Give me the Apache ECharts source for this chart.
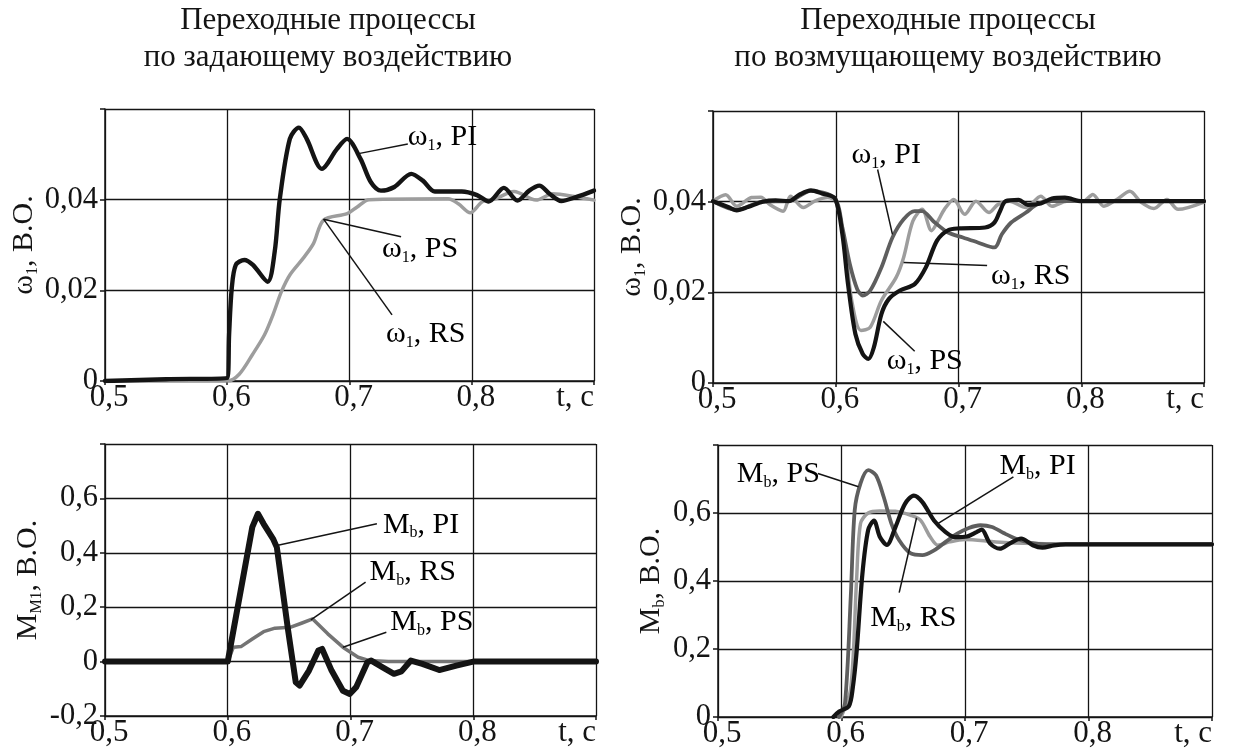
<!DOCTYPE html>
<html>
<head>
<meta charset="utf-8">
<script src="https://cdn.jsdelivr.net/npm/echarts@6/dist/echarts.min.js"></script>
<style>
html,body{margin:0;padding:0;background:#fff;}
#chart{width:1238px;height:751px;}
</style>
</head>
<body>
<div id="chart"></div>
<script>
// заголовки колонок
var titleLeft = ['Переходные процессы', 'по задающему воздействию'];
var titleRight = ['Переходные процессы', 'по возмущающему воздействию'];

// ось времени, с
var tMin = 0.5, tMax = 0.9, tStep = 0.1;

// ω1 по задающему воздействию (PS и RS совпадают)
var w1RefPI = [[0.5,0],[0.55,0.0004],[0.6,0.0007],[0.6015,0.0102],[0.6037,0.0205],[0.607,0.0256],[0.614,0.0267],[0.621,0.0256],[0.633,0.0219],[0.6388,0.0285],[0.643,0.0402],[0.6512,0.0534],[0.6586,0.0559],[0.665,0.0534],[0.6774,0.0468],[0.6898,0.0512],[0.698,0.0534],[0.709,0.049],[0.7174,0.0439],[0.7257,0.042],[0.7367,0.0428],[0.7505,0.0457],[0.76,0.0442],[0.7698,0.0418],[0.7919,0.0418],[0.8043,0.041],[0.8139,0.0396],[0.8263,0.0426],[0.8374,0.0398],[0.847,0.042],[0.8553,0.0431],[0.8636,0.0413],[0.8732,0.0397],[0.8857,0.0406],[0.9,0.042]];
var w1RefRS = [[0.5,0],[0.6,0],[0.6098,0.0015],[0.6208,0.0059],[0.6305,0.0102],[0.6374,0.0146],[0.6443,0.0197],[0.6512,0.0234],[0.6622,0.0271],[0.6705,0.0303],[0.6788,0.0355],[0.6981,0.0369],[0.7063,0.0384],[0.716,0.04],[0.7808,0.0402],[0.789,0.0391],[0.7988,0.0371],[0.8084,0.0395],[0.8194,0.0402],[0.8346,0.0418],[0.8526,0.0399],[0.8663,0.0413],[0.8857,0.0406],[0.9,0.0399]];

// ω1 по возмущающему воздействию
var w1DistPS = [[0.5,0.0401],[0.5133,0.0387],[0.5193,0.0381],[0.5284,0.0388],[0.5405,0.04],[0.551,0.0403],[0.5616,0.0401],[0.5707,0.0416],[0.5798,0.0425],[0.5888,0.0418],[0.5994,0.0407],[0.6054,0.0328],[0.61,0.0218],[0.616,0.0108],[0.622,0.0064],[0.6266,0.0053],[0.6311,0.0079],[0.6372,0.0152],[0.6432,0.0185],[0.6523,0.0204],[0.6643,0.0218],[0.6734,0.0255],[0.6825,0.0314],[0.6915,0.0337],[0.7006,0.0341],[0.7217,0.0343],[0.7293,0.0354],[0.7338,0.0379],[0.7384,0.0401],[0.749,0.0404],[0.7565,0.0393],[0.767,0.0396],[0.7761,0.0407],[0.7867,0.0409],[0.8003,0.0401],[0.9,0.0401]];
var w1DistRS = [[0.5,0.0401],[0.5103,0.0415],[0.5193,0.039],[0.5314,0.0409],[0.539,0.041],[0.5465,0.0393],[0.5571,0.0379],[0.5631,0.0412],[0.5737,0.0387],[0.5828,0.0401],[0.5934,0.0409],[0.6,0.0401],[0.607,0.0314],[0.613,0.0182],[0.6205,0.0116],[0.6281,0.0123],[0.6372,0.0182],[0.6492,0.0233],[0.6553,0.0277],[0.6628,0.0357],[0.6704,0.0383],[0.678,0.0336],[0.684,0.0361],[0.6885,0.0383],[0.6961,0.0405],[0.7051,0.0372],[0.7142,0.0401],[0.7248,0.0376],[0.7323,0.0394],[0.7414,0.0401],[0.755,0.0387],[0.767,0.0412],[0.7761,0.039],[0.7882,0.0401],[0.8018,0.0401],[0.8094,0.0416],[0.8184,0.039],[0.829,0.0405],[0.8396,0.0423],[0.8486,0.0399],[0.8592,0.0385],[0.8698,0.0405],[0.8789,0.0383],[0.9,0.0399]];
var w1DistPI = [[0.5,0.0401],[0.5193,0.0382],[0.5405,0.04],[0.5616,0.0401],[0.5798,0.0424],[0.5994,0.0407],[0.6054,0.0343],[0.6115,0.0262],[0.6175,0.0207],[0.622,0.0193],[0.6281,0.0204],[0.6372,0.0255],[0.6462,0.0321],[0.6553,0.0361],[0.6643,0.0379],[0.6704,0.0379],[0.6795,0.0357],[0.6915,0.0332],[0.7036,0.0321],[0.7157,0.031],[0.7293,0.0299],[0.7353,0.0328],[0.7429,0.0354],[0.755,0.0376],[0.764,0.0394],[0.7731,0.0401],[0.9,0.0401]];

// момент Mb по задающему воздействию (PS и RS совпадают)
var mRefPI = [[0.5,0],[0.6,0],[0.62,0.4945],[0.6246,0.5436],[0.6292,0.5067],[0.6369,0.4515],[0.64,0.42],[0.6492,0.114],[0.6554,-0.076],[0.6585,-0.088],[0.6662,-0.033],[0.6738,0.0405],[0.6769,0.0466],[0.6846,-0.033],[0.6938,-0.107],[0.6994,-0.119],[0.7046,-0.094],[0.7138,-0.0025],[0.7169,0.0037],[0.7262,-0.021],[0.7354,-0.045],[0.7415,-0.036],[0.7492,0.0037],[0.7585,-0.0086],[0.7723,-0.031],[0.7862,-0.0147],[0.8,0],[0.9,0]];
var mRefRS = [[0.5,0],[0.6,0],[0.6046,0.053],[0.6108,0.0552],[0.62,0.083],[0.6292,0.11],[0.6385,0.123],[0.6508,0.126],[0.66,0.141],[0.6692,0.157],[0.6815,0.102],[0.6938,0.053],[0.7062,0.016],[0.7154,0.0037],[0.7308,0],[0.8,0]];

// момент Mb по возмущающему воздействию
var mDistPI = [[0.5934,0],[0.5981,0.016],[0.606,0.032],[0.6091,0.085],[0.6122,0.19],[0.6169,0.42],[0.6216,0.55],[0.6263,0.578],[0.631,0.53],[0.6367,0.506],[0.6436,0.558],[0.6514,0.627],[0.6586,0.651],[0.6655,0.632],[0.6749,0.578],[0.6843,0.544],[0.6922,0.529],[0.7016,0.531],[0.7094,0.544],[0.7135,0.551],[0.7204,0.51],[0.7282,0.495],[0.7361,0.51],[0.7455,0.525],[0.7549,0.505],[0.7627,0.498],[0.7721,0.505],[0.7815,0.508],[0.9,0.508]];
var mDistPS = [[0.598,0],[0.6028,0.04],[0.6075,0.354],[0.6107,0.608],[0.6154,0.687],[0.6216,0.726],[0.6279,0.711],[0.6342,0.647],[0.6404,0.569],[0.6467,0.52],[0.6561,0.481],[0.6655,0.476],[0.6749,0.49],[0.6843,0.515],[0.6937,0.539],[0.7031,0.556],[0.7125,0.564],[0.7219,0.559],[0.7313,0.541],[0.7408,0.525],[0.7533,0.512],[0.7658,0.508],[0.9,0.508]];
var mDistRS = [[0.5997,0],[0.6075,0.085],[0.6122,0.403],[0.6154,0.569],[0.6216,0.6],[0.631,0.606],[0.6436,0.605],[0.6561,0.593],[0.6639,0.579],[0.6718,0.53],[0.6781,0.505],[0.6875,0.515],[0.7,0.522],[0.7251,0.515],[0.7564,0.51],[0.7846,0.508],[0.9,0.508]];

// выноски: [точка у подписи, точка на кривой]
var leadRefPI = [[0.7477,0.0523],[0.7063,0.0501]];
var leadRefPS = [[0.7422,0.0318],[0.6788,0.0357]];
var leadRefRS = [[0.7348,0.0146],[0.6788,0.0357]];
var leadDistPI = [[0.6341,0.0471],[0.6462,0.0328]];
var leadDistRS = [[0.7233,0.0259],[0.6553,0.0266]];
var leadDistPS = [[0.6643,0.007],[0.6387,0.0136]];
var leadMRefPI = [[0.7215,0.507],[0.64,0.427]];
var leadMRefRS = [[0.7123,0.292],[0.6677,0.153]];
var leadMRefPS = [[0.7292,0.108],[0.6938,0.053]];
var leadMDistPS = [[0.5809,0.716],[0.6138,0.677]];
var leadMDistPI = [[0.7392,0.706],[0.678,0.569]];
var leadMDistRS = [[0.6467,0.366],[0.6608,0.586]];

var FONT = 'Liberation Serif';
var INK = '#141414';
var DARK = '#5e5e5e';
var LIGHT = '#9d9d9d';
var MID = '#747474';

var rich = {
  n: {fontFamily: FONT, fontSize: 30, color: INK, lineHeight: 33},
  s: {fontFamily: FONT, fontSize: 16, color: INK, lineHeight: 14, verticalAlign: 'bottom'}
};

function fmtT(v) {
  if (Math.abs(v - tMax) < 1e-6) return 't, c';
  return v.toFixed(1).replace('.', ',');
}
function fmtW(v) {
  if (Math.abs(v) < 1e-9) return '0';
  if (v > 0.055) return '';
  return v.toFixed(2).replace('.', ',');
}
function fmtM(v) {
  if (Math.abs(v) < 1e-9) return '0';
  if (v > 0.75) return '';
  return v.toFixed(1).replace('.', ',');
}

var grids = [
  {left: 105, right: 644, top: 109, bottom: 370},
  {left: 713, right: 34, top: 111, bottom: 368},
  {left: 105, right: 642, top: 444, bottom: 35},
  {left: 718, right: 26, top: 445, bottom: 34}
];

var xAxes = grids.map(function (g, i) {
  return {
    type: 'value', gridIndex: i, min: tMin, max: tMax, interval: tStep,
    axisLine: {show: true, onZero: false, lineStyle: {color: INK, width: 1.5}},
    axisTick: {show: true, length: 4, lineStyle: {color: INK, width: 1.5}},
    splitLine: {show: true, lineStyle: {color: INK, width: 1.3}},
    axisLabel: {color: INK, fontFamily: FONT, fontSize: 31, margin: 1, padding: [0, 0, 0, 8],
      formatter: fmtT, alignMaxLabel: 'right'}
  };
});

var yRanges = [[0, 0.06, 0.02, fmtW], [0, 0.06, 0.02, fmtW], [-0.2, 0.8, 0.2, fmtM], [0, 0.8, 0.2, fmtM]];
var yNames = ['{n|ω}{s|1}{n|, В.О.}', '{n|ω}{s|1}{n|, В.О.}', '{n|M}{s|M1}{n|, В.О.}', '{n|M}{s|b}{n|, В.О.}'];
var yGaps = [54, 56, 60, 50];

var yAxes = yRanges.map(function (r, i) {
  return {
    type: 'value', gridIndex: i, min: r[0], max: r[1], interval: r[2],
    name: yNames[i], nameLocation: 'middle', nameGap: yGaps[i], nameRotate: 90,
    nameTextStyle: {rich: rich},
    axisLine: {show: true, onZero: false, lineStyle: {color: INK, width: 1.5}},
    axisTick: {show: true, length: 5, lineStyle: {color: INK, width: 1.5}},
    splitLine: {show: true, lineStyle: {color: INK, width: 1.3}},
    axisLabel: {color: INK, fontFamily: FONT, fontSize: 30.5, margin: 7, formatter: r[3]}
  };
});

function curve(data, i, color, width, smooth, z) {
  return {
    type: 'line', xAxisIndex: i, yAxisIndex: i, data: data, showSymbol: false, symbol: 'none',
    smooth: smooth, lineStyle: {color: color, width: width, cap: 'round', join: 'round'}, z: z, silent: true
  };
}
function leader(data, i) {
  return {
    type: 'line', xAxisIndex: i, yAxisIndex: i, data: data, symbol: 'none',
    lineStyle: {color: INK, width: 1.5}, z: 10, silent: true
  };
}

var series = [
  curve(w1RefRS, 0, LIGHT, 3.5, 0.3, 3),
  curve(w1RefPI, 0, INK, 4.4, 0.3, 4),
  curve(w1DistRS, 1, LIGHT, 3.5, 0.3, 3),
  curve(w1DistPI, 1, DARK, 3.8, 0.3, 4),
  curve(w1DistPS, 1, INK, 4.2, 0.3, 5),
  curve(mRefRS, 2, MID, 3.5, false, 3),
  curve(mRefPI, 2, INK, 6, false, 4),
  curve(mDistRS, 3, LIGHT, 3.5, 0.3, 3),
  curve(mDistPS, 3, DARK, 3.8, 0.3, 4),
  curve(mDistPI, 3, INK, 4.2, 0.3, 5),
  leader(leadRefPI, 0), leader(leadRefPS, 0), leader(leadRefRS, 0),
  leader(leadDistPI, 1), leader(leadDistRS, 1), leader(leadDistPS, 1),
  leader(leadMRefPI, 2), leader(leadMRefRS, 2), leader(leadMRefPS, 2),
  leader(leadMDistPS, 3), leader(leadMDistPI, 3), leader(leadMDistRS, 3)
];

// подписи кривых
var notes = [
  {g: 0, lead: leadRefPI, text: '{n|ω}{s|1}{n|, PI}', align: 'left', dx: 0, dy: -7},
  {g: 0, lead: leadRefPS, text: '{n|ω}{s|1}{n|, PS}', align: 'left', dx: -19, dy: 12},
  {g: 0, lead: leadRefRS, text: '{n|ω}{s|1}{n|, RS}', align: 'left', dx: -6, dy: 19},
  {g: 1, lead: leadDistPI, text: '{n|ω}{s|1}{n|, PI}', align: 'left', dx: -26, dy: -14},
  {g: 1, lead: leadDistRS, text: '{n|ω}{s|1}{n|, RS}', align: 'left', dx: 4, dy: 11},
  {g: 1, lead: leadDistPS, text: '{n|ω}{s|1}{n|, PS}', align: 'left', dx: -28, dy: 10},
  {g: 2, lead: leadMRefPI, text: '{n|M}{s|b}{n|, PI}', align: 'left', dx: 6, dy: 1},
  {g: 2, lead: leadMRefRS, text: '{n|M}{s|b}{n|, RS}', align: 'left', dx: 4, dy: -10},
  {g: 2, lead: leadMRefPS, text: '{n|M}{s|b}{n|, PS}', align: 'left', dx: 4, dy: -10},
  {g: 3, lead: leadMDistPS, text: '{n|M}{s|b}{n|, PS}', align: 'right', dx: 2, dy: 1},
  {g: 3, lead: leadMDistPI, text: '{n|M}{s|b}{n|, PI}', align: 'left', dx: -14, dy: -11},
  {g: 3, lead: leadMDistRS, text: '{n|M}{s|b}{n|, RS}', align: 'left', dx: -29, dy: 26}
];

var titleStyle = {fontFamily: FONT, fontSize: 31, fill: INK, align: 'center', verticalAlign: 'middle'};
var graphics = [
  {type: 'text', x: 328, y: 21, style: Object.assign({text: titleLeft[0]}, titleStyle)},
  {type: 'text', x: 328, y: 58, style: Object.assign({text: titleLeft[1]}, titleStyle)},
  {type: 'text', x: 948, y: 21, style: Object.assign({text: titleRight[0]}, titleStyle)},
  {type: 'text', x: 948, y: 58, style: Object.assign({text: titleRight[1]}, titleStyle)}
];

var chart = echarts.init(document.getElementById('chart'));
chart.setOption({
  animation: false,
  backgroundColor: '#fff',
  grid: grids,
  xAxis: xAxes,
  yAxis: yAxes,
  series: series
});

notes.forEach(function (n) {
  var p = chart.convertToPixel({gridIndex: n.g}, n.lead[0]);
  graphics.push({
    type: 'text', x: p[0] + n.dx, y: p[1] + n.dy, z: 20,
    style: {text: n.text, rich: rich, align: n.align, verticalAlign: 'middle'}
  });
});
chart.setOption({graphic: graphics});
</script>
</body>
</html>
